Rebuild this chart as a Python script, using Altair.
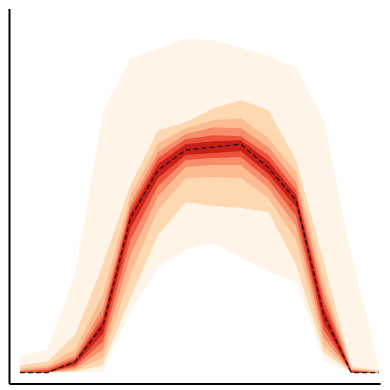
import altair as alt
import pandas as pd

# hour index (14 time steps)
steps = list(range(14))

# quantile bands: (lower, upper) heights, outermost first
band1_lo = [0, 0, 0, 1, 61, 105, 123, 130, 115, 101, 91, 12, 0, 0]
band1_hi = [16, 23, 98, 261, 315, 325, 335, 333, 326, 317, 306, 253, 118, 6]
band2_lo = [0, 0, 1, 7, 75, 138, 171, 167, 165, 161, 108, 20, 0, 0]
band2_hi = [7, 11, 38, 108, 188, 243, 251, 265, 273, 263, 213, 111, 6, 2]
band3_lo = [0, 0, 2, 15, 98, 163, 195, 196, 195, 175, 133, 27, 0, 0]
band3_hi = [4, 7, 23, 78, 178, 230, 245, 253, 255, 235, 201, 91, 4, 1]
band4_lo = [0, 0, 4, 23, 118, 177, 206, 208, 208, 185, 147, 35, 0, 0]
band4_hi = [2, 5, 17, 65, 170, 221, 239, 246, 245, 226, 191, 81, 3, 0]
band5_lo = [0, 0, 6, 31, 133, 187, 213, 215, 216, 193, 157, 43, 0, 0]
band5_hi = [1, 3, 14, 57, 165, 215, 234, 238, 237, 218, 183, 73, 2, 0]
band6_lo = [0, 0, 8, 39, 145, 195, 218, 220, 222, 199, 166, 50, 0, 0]
band6_hi = [0, 1, 12, 52, 160, 209, 229, 232, 233, 212, 178, 65, 1, 0]
median = [0, 0, 11, 47, 155, 203, 223, 226, 229, 205, 173, 58, 0, 0]

band_colors = ["#fef4e8", "#fdd8b0", "#fcbb90", "#f88d6c", "#ea5339", "#c91d18"]

df = pd.DataFrame({
    "x": steps,
    "b1l": band1_lo, "b1h": band1_hi,
    "b2l": band2_lo, "b2h": band2_hi,
    "b3l": band3_lo, "b3h": band3_hi,
    "b4l": band4_lo, "b4h": band4_hi,
    "b5l": band5_lo, "b5h": band5_hi,
    "b6l": band6_lo, "b6h": band6_hi,
    "med": median,
})

xscale = alt.Scale(domain=[-0.4, 13.04], nice=False, zero=False)
yscale = alt.Scale(domain=[-11, 365], nice=False, zero=False)
xaxis = alt.Axis(ticks=False, labels=False, grid=False, title=None,
                 domainColor="black", domainWidth=2)
yaxis = alt.Axis(ticks=False, labels=False, grid=False, title=None,
                 domainColor="black", domainWidth=2)

base = alt.Chart(df)
layers = []
for i, c in enumerate(band_colors, start=1):
    layers.append(
        base.mark_area(color=c, opacity=1, strokeWidth=0).encode(
            x=alt.X("x:Q", scale=xscale, axis=xaxis),
            y=alt.Y(f"b{i}h:Q", scale=yscale, axis=yaxis),
            y2=alt.Y2(f"b{i}l:Q"),
        )
    )
layers.append(
    base.mark_line(color="#1a1a1a", strokeWidth=1.3, strokeDash=[5, 3]).encode(
        x=alt.X("x:Q", scale=xscale, axis=xaxis),
        y=alt.Y("med:Q", scale=yscale, axis=yaxis),
    )
)

chart = alt.layer(*layers).properties(
    width=372, height=376,
    padding={"left": 1, "top": 0, "right": 0, "bottom": 1},
).configure_view(stroke=None)

chart.save("out.html", embed_options={"renderer": "svg", "actions": False})
